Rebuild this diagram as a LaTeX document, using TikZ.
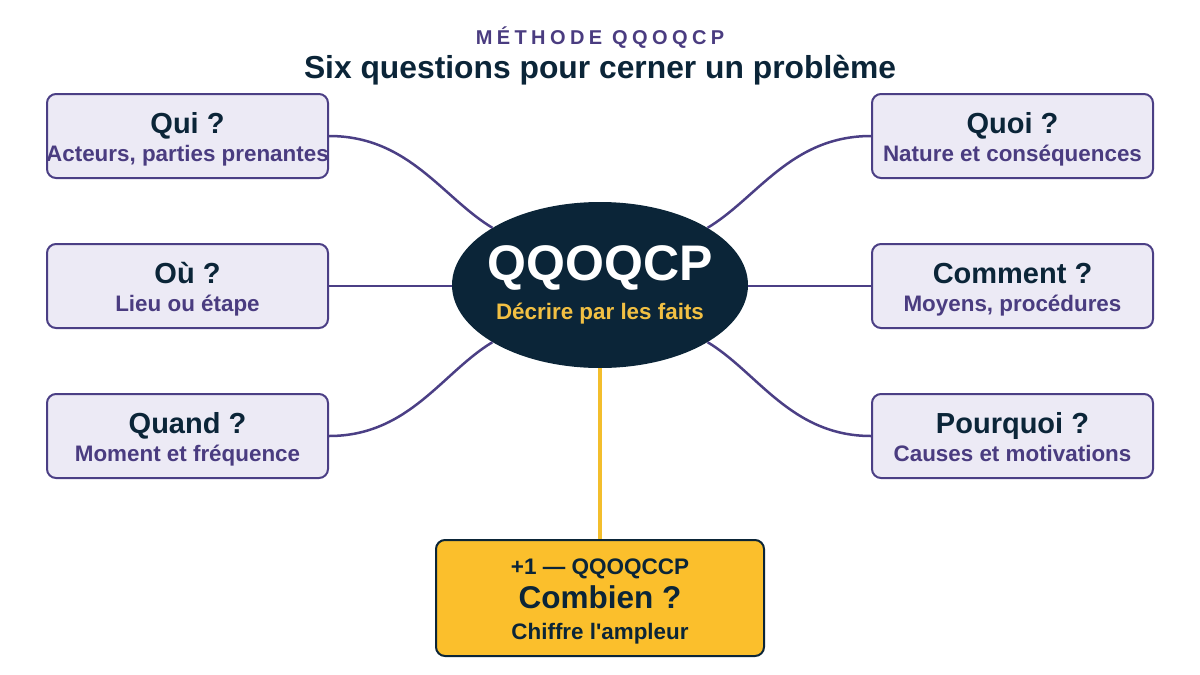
\documentclass[tikz,border=0pt]{standalone}
\usepackage{fontspec}
\setmainfont{Liberation Sans}[Ligatures=TeXOff]
\newfontfamily\spacedfont[LetterSpace=22,Ligatures=TeXOff]{Liberation Sans}
\usetikzlibrary{shapes.geometric,calc}
\definecolor{navy}{HTML}{0B2538}
\definecolor{purp}{HTML}{4A3C80}
\definecolor{boxline}{HTML}{4B3F85}
\definecolor{boxfill}{HTML}{ECEAF5}
\definecolor{linkc}{HTML}{4B3F85}
\definecolor{gold}{HTML}{FBBF2C}
\definecolor{goldtext}{HTML}{F2C043}
\definecolor{goldline}{HTML}{F3BE2C}
\tikzset{
  qbox/.style={draw=boxline, line width=2pt, fill=boxfill, rounded corners=9pt,
    minimum width=281pt, minimum height=84pt, inner sep=0pt},
  qtitle/.style={anchor=base, text=navy, inner sep=0pt, font=\bfseries\fontsize{29}{29}\selectfont},
  qsub/.style={anchor=base, text=purp, inner sep=0pt, font=\bfseries\fontsize{22.4}{22.4}\selectfont},
  link/.style={draw=linkc, line width=2.5pt},
}
\begin{document}
\begin{tikzpicture}[x=1pt,y=-1pt]
\useasboundingbox (0,0) rectangle (1200,675);
% heading
\node[anchor=base, text=purp, inner sep=0pt, font=\spacedfont\bfseries\fontsize{20}{20}\selectfont] (kicker) at (600,44) {MÉTHODE QQOQCP};
\node[anchor=base, text=navy, inner sep=0pt, font=\bfseries\fontsize{31.8}{31.8}\selectfont] (head) at (600,78) {Six questions pour cerner un problème};
% center
\node[ellipse, fill=navy, minimum width=296pt, minimum height=166pt, inner sep=0pt] (c) at (600,285) {};
\node[anchor=base, text=white, inner sep=0pt, font=\bfseries\fontsize{50}{50}\selectfont] (ctitle) at (600,280) {QQOQCP};
\node[anchor=base, text=goldtext, inner sep=0pt, font=\bfseries\fontsize{22.4}{22.4}\selectfont] (csub) at (600,319) {Décrire par les faits};
% boxes
\node[qbox] (qui) at (187.5,136) {};
\node[qtitle] (quiT) at (187.5,133.4) {Qui ?};
\node[qsub] (quiS) at (187.5,161) {Acteurs, parties prenantes};
\node[qbox] (ou) at (187.5,286) {};
\node[qtitle] (ouT) at (187.5,283.4) {Où ?};
\node[qsub] (ouS) at (187.5,311) {Lieu ou étape};
\node[qbox] (quand) at (187.5,436) {};
\node[qtitle] (quandT) at (187.5,433.4) {Quand ?};
\node[qsub] (quandS) at (187.5,461) {Moment et fréquence};
\node[qbox] (quoi) at (1012.5,136) {};
\node[qtitle] (quoiT) at (1012.5,133.4) {Quoi ?};
\node[qsub] (quoiS) at (1012.5,161) {Nature et conséquences};
\node[qbox] (comment) at (1012.5,286) {};
\node[qtitle] (commentT) at (1012.5,283.4) {Comment ?};
\node[qsub] (commentS) at (1012.5,311) {Moyens, procédures};
\node[qbox] (pourquoi) at (1012.5,436) {};
\node[qtitle] (pourquoiT) at (1012.5,433.4) {Pourquoi ?};
\node[qsub] (pourquoiS) at (1012.5,461) {Causes et motivations};
% bottom box
\node[draw=navy, line width=2pt, fill=gold, rounded corners=9pt, minimum width=328pt, minimum height=116pt, inner sep=0pt] (comb) at (600,598) {};
\node[anchor=base, text=navy, inner sep=0pt, font=\bfseries\fontsize{22.5}{22.5}\selectfont] (combA) at (600,574) {+1 — QQOQCCP};
\node[anchor=base, text=navy, inner sep=0pt, font=\bfseries\fontsize{31.5}{31.5}\selectfont] (combB) at (600,608) {Combien ?};
\node[anchor=base, text=navy, inner sep=0pt, font=\bfseries\fontsize{22.4}{22.4}\selectfont] (combC) at (600,639) {Chiffre l'ampleur};
% connectors
\draw[link] (qui.east) .. controls ($(qui.east)+(80,0)$) and ($(c.152)+(-50,-30)$) .. (c.152);
\draw[link] (quand.east) .. controls ($(quand.east)+(80,0)$) and ($(c.208)+(-50,30)$) .. (c.208);
\draw[link] (quoi.west) .. controls ($(quoi.west)+(-80,0)$) and ($(c.28)+(50,-30)$) .. (c.28);
\draw[link] (pourquoi.west) .. controls ($(pourquoi.west)+(-80,0)$) and ($(c.332)+(50,30)$) .. (c.332);
\draw[link] (ou.east) -- (ou.east -| c.west);
\draw[link] (comment.west) -- (comment.west -| c.east);
\draw[draw=goldline, line width=4pt] (c.south) -- (comb.north);
\end{tikzpicture}
\end{document}
